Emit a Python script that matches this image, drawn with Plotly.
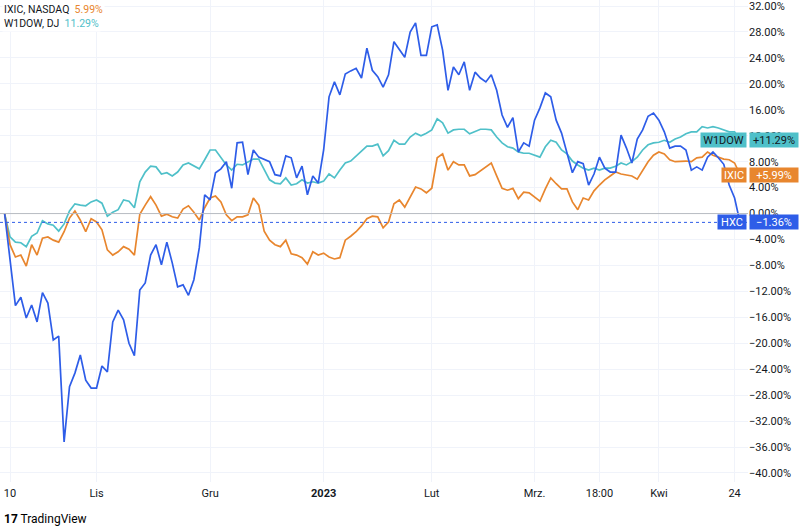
import pandas as pd
import plotly.graph_objects as go

# trading days (US calendar), Oct 7 2022 -> Apr 25 2023
holidays = ["2022-11-24", "2022-12-26", "2023-01-02", "2023-01-16", "2023-02-20", "2023-04-07"]
dates = pd.bdate_range("2022-10-07", "2023-04-25", freq="C", holidays=holidays)

# % change since first bar
hxc = [0.0, -7.2, -14.2, -12.9, -16.1, -14.1, -16.7, -12.2, -13.8, -19.5,
       -18.9, -35.2, -26.7, -24.6, -21.8, -25.7, -26.9, -26.9, -23.5, -24.4,
       -16.7, -14.9, -16.4, -20.0, -21.9, -11.8, -10.7, -6.4, -4.8, -7.9,
       -4.4, -7.6, -11.3, -11.0, -12.6, -10.2, -5.3, 2.9, 2.1, 6.3,
       6.9, 8.0, 3.9, 10.9, 11.0, 6.0, 9.8, 8.7, 8.3, 8.0,
       6.0, 5.8, 8.9, 8.6, 5.5, 7.3, 2.9, 5.8, 4.7, 9.8,
       18.0, 20.3, 18.3, 21.5, 22.0, 22.4, 20.9, 25.5, 22.1, 21.1,
       19.5, 21.4, 26.5, 25.2, 24.1, 28.0, 29.4, 24.4, 24.4, 28.8,
       29.1, 25.2, 19.0, 22.6, 21.4, 23.4, 19.0, 21.8, 20.9, 20.3,
       21.4, 19.0, 15.2, 13.3, 14.8, 9.5, 10.9, 10.4, 14.4, 16.3,
       18.6, 18.0, 14.4, 12.4, 9.5, 6.3, 8.0, 7.7, 4.4, 6.1,
       8.7, 7.0, 6.4, 6.4, 12.1, 10.1, 7.8, 11.5, 12.9, 15.0,
       15.5, 14.4, 12.6, 10.1, 10.4, 10.4, 9.8, 6.7, 7.2, 6.7,
       8.7, 9.5, 8.6, 7.6, 4.4, 2.4, -1.36]

ixic = [0.0, -4.8, -6.7, -6.4, -8.1, -4.8, -6.4, -3.8, -3.6, -4.1,
        -4.4, -2.8, -0.7, 0.4, -1.0, -2.8, -0.8, -1.3, -2.5, -5.6,
        -6.4, -5.9, -5.1, -5.5, -6.4, -0.1, 1.3, 2.6, 1.3, -0.4,
        -0.1, -0.5, -0.7, 0.7, 1.2, 0.2, -1.0, 0.9, 2.4, 2.7,
        1.8, -0.2, -1.1, -0.5, -0.5, -0.2, 2.4, 1.3, -2.7, -4.1,
        -4.8, -5.1, -4.1, -6.2, -6.4, -6.8, -7.8, -5.9, -6.4, -6.1,
        -6.7, -7.0, -6.8, -4.1, -3.5, -2.8, -1.9, -0.8, -0.4, -0.5,
        -2.2, -1.3, 1.5, 2.1, 1.0, 2.6, 4.1, 3.8, 3.2, 3.9,
        8.6, 9.2, 6.7, 8.0, 7.5, 7.5, 5.8, 6.0, 6.6, 7.3,
        7.8, 5.8, 3.9, 3.6, 3.9, 2.3, 3.3, 3.2, 2.6, 1.9,
        3.8, 5.5, 4.6, 3.8, 3.8, 1.8, 0.6, 2.4, 2.1, 3.5,
        4.4, 5.2, 5.8, 6.4, 6.1, 6.0, 5.8, 5.3, 6.7, 8.0,
        9.0, 9.5, 9.2, 8.3, 8.0, 8.1, 8.1, 8.0, 8.6, 8.7,
        9.5, 9.0, 8.7, 8.4, 8.3, 7.8, 5.99]

w1dow = [0.0, -3.6, -4.4, -4.5, -5.1, -3.5, -3.0, -1.1, -1.6, -1.8,
         -2.7, -1.6, 0.4, 1.5, 1.3, 1.2, 1.8, 2.1, 1.6, -0.4,
         0.2, 0.6, 2.1, 1.9, 0.9, 4.9, 6.4, 7.3, 7.2, 6.1,
         6.3, 5.8, 6.4, 7.5, 7.8, 7.3, 6.9, 8.3, 9.8, 9.8,
         8.6, 7.5, 6.7, 7.6, 7.5, 8.0, 8.4, 8.4, 6.7, 5.2,
         4.7, 4.6, 5.5, 4.4, 4.6, 5.2, 4.7, 4.9, 4.7, 5.0,
         6.1, 5.5, 6.7, 7.8, 8.1, 8.9, 9.7, 10.4, 10.4, 10.7,
         8.9, 9.7, 11.3, 10.7, 10.7, 11.8, 12.4, 12.0, 12.4, 12.9,
         14.6, 14.0, 12.4, 12.9, 13.0, 13.0, 12.3, 12.6, 13.0, 13.0,
         12.9, 11.8, 10.9, 10.3, 10.1, 9.5, 9.3, 9.3, 9.0, 8.7,
         10.3, 11.3, 11.0, 9.8, 9.2, 8.1, 7.5, 7.0, 6.7, 7.0,
         6.7, 7.0, 7.0, 7.3, 7.8, 7.5, 8.0, 8.7, 9.8, 10.6,
         10.9, 11.0, 11.3, 11.0, 11.5, 11.8, 12.3, 12.6, 12.6, 13.4,
         13.2, 13.4, 13.2, 12.9, 12.6, 12.6, 11.29]

tick_dates = ["2022-10-10", "2022-11-01", "2022-12-01", "2023-01-03", "2023-02-01",
              "2023-03-01", "2023-03-17", "2023-04-03", "2023-04-24"]
tick_labels = ["10", "Lis", "Gru", "<b>2023</b>", "Lut", "Mrz.", "18:00", "Kwi", "24"]

y_ticks = list(range(32, -41, -4))
y_labels = [("\u2212" if v < 0 else "") + "%.2f%%" % abs(v) for v in y_ticks]

BLUE = "#2E5DE8"
ORANGE = "#E8862E"
TEAL = "#4FC0C9"
TEXT = "#131722"

fig = go.Figure()
for vals, col in [(w1dow, TEAL), (ixic, ORANGE), (hxc, BLUE)]:
    fig.add_trace(go.Scatter(x=dates, y=vals, mode="lines",
                             line=dict(color=col, width=1.7), hoverinfo="skip"))

# zero line + last value of main symbol (dotted)
fig.add_hline(y=0, line_color="#B8BBC2", line_width=1)
fig.add_hline(y=hxc[-1], line_color=BLUE, line_width=1, line_dash="dot")

fig.update_layout(
    width=800, height=527,
    margin=dict(l=0, r=52, t=0, b=45),
    paper_bgcolor="white", plot_bgcolor="white",
    showlegend=False,
    font=dict(family="Roboto, Arial", size=11, color=TEXT),
    xaxis=dict(
        range=["2022-10-06 03:30", "2023-04-26 11:30"],
        rangebreaks=[dict(bounds=["sat", "mon"]), dict(values=holidays)],
        tickvals=tick_dates, ticktext=tick_labels,
        showgrid=True, gridcolor="#F0F3FA", gridwidth=1,
        zeroline=False, showline=False, ticks="",
        ticklabelstandoff=3,
        tickfont=dict(size=11, color=TEXT),
    ),
    yaxis=dict(
        side="right",
        range=[-41.39, 32.93],
        tickvals=y_ticks, ticktext=y_labels,
        ticklabeloverflow="allow",
        showgrid=True, gridcolor="#F0F3FA", gridwidth=1,
        zeroline=False, showline=False, ticks="",
        tickfont=dict(size=11, color=TEXT),
    ),
)

# price-scale labels (name box + value box)
labels = [
    ("W1DOW", "+11.29%", w1dow[-1], TEAL, TEXT, 43),
    ("IXIC", "+5.99%", ixic[-1], ORANGE, "white", 22),
    ("HXC", "\u22121.36%", hxc[-1], BLUE, "white", 26),
]
for name, vtxt, yv, bg, fg, w in labels:
    fig.add_annotation(x=1, xref="paper", y=yv, yref="y", xanchor="right", yanchor="middle",
                       xshift=-1, text=name, showarrow=False, bgcolor=bg, width=w, height=12,
                       borderpad=1, font=dict(size=11, color=fg))
    fig.add_annotation(x=1, xref="paper", y=yv, yref="y", xanchor="left", yanchor="middle",
                       xshift=1, text=vtxt, showarrow=False, bgcolor=bg, width=46, height=12,
                       borderpad=1, font=dict(size=11, color=fg))

# top-left legend
fig.add_annotation(x=0, xref="paper", y=1, yref="paper", xanchor="left", yanchor="top",
                   xshift=2, yshift=-1, showarrow=False, align="left",
                   text="IXIC, NASDAQ  <span style='color:%s'>5.99%%</span>" % ORANGE,
                   font=dict(size=10.5, color=TEXT), bgcolor="white")
fig.add_annotation(x=0, xref="paper", y=1, yref="paper", xanchor="left", yanchor="top",
                   xshift=2, yshift=-15, showarrow=False, align="left",
                   text="W1DOW, DJ  <span style='color:%s'>11.29%%</span>" % TEAL,
                   font=dict(size=10.5, color=TEXT), bgcolor="white")

# TradingView mark
fig.add_annotation(x=0, xref="paper", y=0, yref="paper", xanchor="left", yanchor="middle",
                   xshift=2, yshift=-37, showarrow=False,
                   text="<b>17</b> TradingView", font=dict(size=12, color="#000000"))

# drop the browser's default body margin so the figure sits at (0, 0)
fig.write_html("out.html", config={"displayModeBar": False},
               post_script="document.body.style.margin='0px';")
